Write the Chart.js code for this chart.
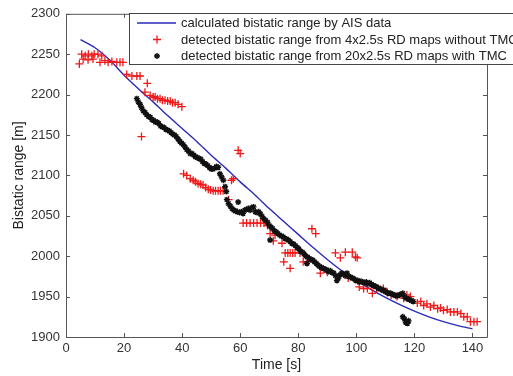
<!DOCTYPE html>
<html>
<head>
<meta charset="utf-8">
<script src="https://cdn.jsdelivr.net/npm/chart.js@4.4.1/dist/chart.umd.min.js"></script>
<style>
  html, body { margin: 0; padding: 0; background: #fff; overflow: hidden; }
  #wrap { width: 513px; height: 376px; }
</style>
</head>
<body>
<div id="wrap"><canvas id="chart" width="513" height="376"></canvas></div>
<script>
const xTicks = [0, 20, 40, 60, 80, 100, 120, 140];
const yTicks = [1900, 1950, 2000, 2050, 2100, 2150, 2200, 2250, 2300];

const seriesLabels = [
  'calculated bistatic range by AIS data',
  'detected bistatic range from 4x2.5s RD maps without TMC',
  'detected bistatic range from 20x2.5s RD maps with TMC'
];

// AIS curve
const aisTime = [5, 10, 15, 20, 25, 30, 35, 40, 45, 50, 55, 60, 65, 70, 75, 80, 85, 90, 95, 100, 105, 110, 115, 120, 125, 130, 135, 140];
const aisRange = [2268, 2258, 2243, 2224, 2207, 2191, 2174, 2158, 2142, 2125, 2109, 2092, 2076, 2059, 2043, 2027, 2011, 1996, 1982, 1970, 1959, 1949, 1940, 1932, 1925, 1919, 1914, 1910];

// 4x2.5s without TMC (red crosses)
const noTmcTime = [4.6, 5.4, 5.9, 6.6, 7.6, 7.7, 8.9, 9.3, 9.7, 11.0, 11.7, 12.3, 13.4, 14.5, 15.8, 17.5, 18.6, 19.6,
  20.9, 22.7, 24.4, 25.5, 26.0, 27.2, 28.0, 29.0, 30.0, 30.7, 31.5, 32.4, 33.2, 34.1, 35.0, 35.9, 36.7, 37.6, 38.6, 39.9,
  40.5, 41.6, 42.8, 43.8, 44.6, 45.5, 46.4, 47.2, 48.1, 49.0, 49.8, 50.7, 51.5, 52.4, 53.2, 54.1, 56.0, 57.0, 57.6, 59.3, 60.0,
  61.0, 62.2, 63.4, 64.6, 65.8, 67.0, 68.2, 69.4, 70.3, 71.4, 72.0, 74.4, 75.0, 75.5, 76.4, 77.2, 77.2, 78.1, 78.9, 80.6,
  81.7, 83.0, 84.7, 86.0, 87.6, 90.0, 92.8, 94.5, 96.2, 97.2, 98.6, 99.7, 100.3, 101.0, 102.5, 103.8, 105.5, 107.0, 109.3,
  110.7, 112.0, 114.0, 116.3, 117.4, 118.6, 121.0, 122.2, 123.2, 124.3, 125.5, 126.7, 128.0, 129.0, 130.0, 131.3, 132.4,
  133.6, 134.8, 136.0, 137.0, 138.2, 139.3, 140.5, 141.6];
const noTmcRange = [2238, 2250, 2244, 2248, 2243, 2250, 2248, 2244, 2250, 2250, 2240, 2248, 2242, 2240, 2241, 2240, 2240, 2240,
  2225, 2223, 2223, 2223, 2148, 2203, 2214, 2199, 2197, 2197, 2195, 2195, 2193, 2193, 2192, 2192, 2190, 2190, 2188, 2185,
  2102, 2100, 2096, 2094, 2092, 2090, 2089, 2088, 2085, 2083, 2082, 2081, 2081, 2081, 2081, 2081, 2070, 2094, 2096, 2131, 2127,
  2041, 2041, 2041, 2041, 2041, 2041, 2041, 2038, 2028, 2019, 2026, 2016, 1993, 2004, 2004, 1985, 2004, 2004, 2004, 2004,
  1993, 1993, 2034, 2028, 1979, 1980, 2004, 1998, 2005, 1973, 2005, 1999, 1998, 1962, 1960, 1960, 1954, 1960, 1960,
  1955, 1952, 1950, 1948, 1952, 1950, 1942, 1944, 1939, 1941, 1937, 1939, 1935, 1936, 1933, 1934, 1931,
  1931, 1931, 1929, 1925, 1925, 1919, 1919, 1919];

// 20x2.5s with TMC (black stars)
const tmcTime = [24.4, 24.9, 25.5, 26.0, 26.6, 27.2, 27.8, 28.4, 29.0, 29.6, 30.2, 30.8, 31.4, 32.0, 32.6, 33.2, 33.8, 34.4,
  35.0, 35.6, 36.2, 36.8, 37.4, 38.0, 38.6, 39.2, 39.8, 40.4, 41.0, 41.6, 42.2, 42.8, 43.4, 44.0, 44.6, 45.2, 45.8, 46.4,
  47.0, 47.6, 48.2, 48.8, 49.4, 50.0, 50.6, 51.2, 51.8, 52.4, 53.0, 53.6, 54.2, 54.8, 55.2, 55.4, 56.0, 56.6, 57.2, 57.8,
  58.4, 59.0, 59.3, 59.8, 60.4, 61.0, 61.6, 62.2, 62.8, 63.4, 64.0, 64.6, 65.2, 65.8, 66.4, 67.0, 67.6, 68.2, 68.8, 69.4,
  70.0, 70.3, 70.6, 71.2, 71.8, 72.4, 73.0, 73.6, 74.2, 74.8, 75.4, 76.0, 76.6, 77.2, 77.8, 78.4, 79.0, 79.6, 80.2, 80.8,
  81.4, 82.0, 82.6, 83.0, 83.2, 83.8, 84.4, 85.0, 85.6, 86.2, 86.8, 87.4, 88.0, 88.6, 89.2, 89.8, 90.4, 91.0, 91.6, 92.2,
  92.8, 93.3, 93.8, 94.4, 95.0, 95.6, 96.2, 96.8, 97.4, 98.0, 98.6, 99.2, 99.8, 100.4, 101.0, 101.6, 102.2, 102.8, 103.4,
  104.0, 104.6, 105.2, 105.8, 106.4, 107.0, 107.6, 108.2, 108.8, 109.4, 110.0, 110.6, 111.2, 111.8, 112.4, 113.0, 113.6,
  114.2, 114.8, 115.4, 116.0, 116.6, 117.2, 117.8, 118.4, 119.0, 119.6, 116.0, 116.6, 117.0, 117.6, 118.0];
const tmcRange = [2195, 2191, 2188, 2184, 2180, 2178, 2175, 2173, 2172, 2169, 2168, 2166, 2166, 2164, 2161, 2160, 2159, 2157,
  2156, 2155, 2153, 2151, 2150, 2148, 2145, 2142, 2140, 2138, 2135, 2132, 2130, 2127, 2127, 2125, 2123, 2122, 2121, 2120,
  2117, 2115, 2114, 2112, 2110, 2108, 2108, 2109, 2111, 2110, 2102, 2098, 2094, 2086, 2080, 2070, 2065, 2062, 2059, 2057,
  2056, 2055, 2067, 2054, 2055, 2053, 2057, 2058, 2059, 2057, 2060, 2061, 2055, 2054, 2055, 2052, 2049, 2046, 2044, 2042,
  2038, 2020, 2036, 2034, 2031, 2030, 2028, 2026, 2025, 2024, 2022, 2021, 2020, 2018, 2016, 2015, 2013, 2011, 2009, 2006,
  2005, 2003, 2000, 1991, 1999, 1997, 1996, 1995, 1993, 1991, 1989, 1987, 1986, 1985, 1984, 1983, 1981, 1982, 1980, 1979,
  1976, 1970, 1973, 1977, 1979, 1978, 1976, 1979, 1975, 1974, 1973, 1972, 1970, 1970, 1968, 1969, 1968, 1967, 1968,
  1966, 1967, 1965, 1964, 1963, 1962, 1960, 1960, 1958, 1958, 1956, 1955, 1954, 1954, 1953, 1952, 1951,
  1951, 1952, 1953, 1954, 1950, 1948, 1947, 1946, 1945, 1944, 1925, 1922, 1918, 1917, 1920];

const toXY = (xs, ys) => xs.map((x, i) => ({ x: x, y: ys[i] }));

const axisColor = '#555';
const fontFamily = '"Liberation Sans", Arial, Helvetica, sans-serif';

// matlab style box with inward ticks + the legend on top
const matlabFrame = {
  id: 'matlabFrame',
  afterDatasetsDraw(chart) {
    const { ctx, chartArea: a, scales } = chart;
    ctx.save();
    ctx.strokeStyle = axisColor;
    ctx.lineWidth = 1;
    ctx.beginPath();
    ctx.rect(a.left + 0.5, a.top + 0.5, a.right - a.left, a.bottom - a.top);
    const tl = 4;
    xTicks.forEach(v => {
      const px = Math.round(scales.x.getPixelForValue(v)) + 0.5;
      ctx.moveTo(px, a.bottom); ctx.lineTo(px, a.bottom - tl);
      ctx.moveTo(px, a.top); ctx.lineTo(px, a.top + tl);
    });
    yTicks.forEach(v => {
      const py = Math.round(scales.y.getPixelForValue(v)) + 0.5;
      ctx.moveTo(a.left, py); ctx.lineTo(a.left + tl, py);
      ctx.moveTo(a.right, py); ctx.lineTo(a.right - tl, py);
    });
    ctx.stroke();
    ctx.restore();
  },
  afterDraw(chart) {
    const ctx = chart.ctx;
    const bx = 129, by = 13, bw = 420, bh = 51;
    ctx.save();
    ctx.fillStyle = '#fff';
    ctx.fillRect(bx, by, bw, bh);
    ctx.strokeStyle = '#444';
    ctx.lineWidth = 1;
    ctx.strokeRect(bx + 0.5, by + 0.5, bw, bh);
    ctx.font = '13px ' + fontFamily;
    ctx.textBaseline = 'middle';
    const rows = [23, 39.5, 56];
    chart.data.datasets.forEach((ds, i) => {
      const ry = rows[i];
      ctx.strokeStyle = ds.borderColor;
      ctx.fillStyle = ds.borderColor;
      if (i === 0) {
        ctx.lineWidth = 1.4;
        ctx.beginPath();
        ctx.moveTo(137, ry); ctx.lineTo(176, ry);
        ctx.stroke();
      } else {
        ctx.lineWidth = ds.borderWidth;
        Chart.helpers.drawPoint(ctx, {
          pointStyle: ds.pointStyle, radius: ds.pointRadius, borderWidth: ds.borderWidth, rotation: 0
        }, 157, ry);
      }
      ctx.fillStyle = '#222';
      ctx.fillText(ds.label, 181, ry + 0.5);
    });
    ctx.restore();
  }
};

new Chart(document.getElementById('chart'), {
  type: 'scatter',
  data: {
    datasets: [
      {
        label: seriesLabels[0],
        data: toXY(aisTime, aisRange),
        showLine: true,
        borderColor: '#2b2bb8',
        borderWidth: 1.4,
        pointRadius: 0,
        tension: 0.3,
        order: 3
      },
      {
        label: seriesLabels[1],
        data: toXY(noTmcTime, noTmcRange),
        pointStyle: 'cross',
        pointRadius: 4,
        borderWidth: 1.3,
        borderColor: '#f01818',
        backgroundColor: '#f01818',
        order: 2
      },
      {
        label: seriesLabels[2],
        data: toXY(tmcTime, tmcRange),
        pointStyle: 'star',
        pointRadius: 3,
        borderWidth: 1.4,
        borderColor: '#111',
        backgroundColor: '#111',
        order: 1
      }
    ]
  },
  options: {
    responsive: false,
    animation: false,
    devicePixelRatio: 1,
    layout: { padding: { left: 0, right: 26, top: 13, bottom: 0 } },
    plugins: { legend: { display: false }, tooltip: { enabled: false } },
    scales: {
      x: {
        type: 'linear',
        min: 0,
        max: 145,
        afterFit: s => { s.height = 39; },
        afterBuildTicks: s => { s.ticks = xTicks.map(v => ({ value: v })); },
        grid: { display: false, drawTicks: false },
        border: { display: false },
        ticks: { padding: 4, color: '#333', font: { family: fontFamily, size: 13 }, maxRotation: 0, callback: v => String(v) },
        title: { display: true, text: 'Time [s]', color: '#222', font: { family: fontFamily, size: 14 }, padding: { top: 0, bottom: 2 } }
      },
      y: {
        type: 'linear',
        min: 1900,
        max: 2300,
        afterFit: s => { s.width = 66; },
        afterBuildTicks: s => { s.ticks = yTicks.map(v => ({ value: v })); },
        grid: { display: false, drawTicks: false },
        border: { display: false },
        ticks: { padding: 6, color: '#333', font: { family: fontFamily, size: 13 }, callback: v => String(v) },
        title: { display: true, text: 'Bistatic range [m]', color: '#222', font: { family: fontFamily, size: 14 }, padding: { top: 11, bottom: 0 } }
      }
    }
  },
  plugins: [matlabFrame]
});
</script>
</body>
</html>
